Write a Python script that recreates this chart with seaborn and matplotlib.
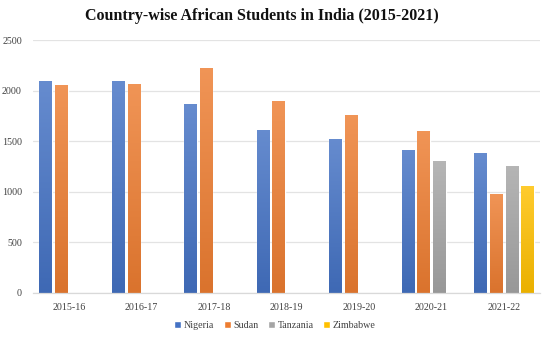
import numpy as np
import pandas as pd
import matplotlib
matplotlib.use("Agg")
import matplotlib.pyplot as plt
import seaborn as sns
from matplotlib.colors import to_rgb, LinearSegmentedColormap

years = ["2015-16", "2016-17", "2017-18", "2018-19", "2019-20", "2020-21", "2021-22"]
nigeria = [2090, 2090, 1865, 1615, 1525, 1415, 1385]
sudan = [2060, 2070, 2220, 1900, 1757, 1600, 980]
tanzania = [np.nan, np.nan, np.nan, np.nan, np.nan, 1300, 1258]
zimbabwe = [np.nan, np.nan, np.nan, np.nan, np.nan, np.nan, 1057]
countries = ["Nigeria", "Sudan", "Tanzania", "Zimbabwe"]
colors = ["#4472C4", "#ED7D31", "#A5A5A5", "#FFC000"]
yticks = [0, 500, 1000, 1500, 2000, 2500]

df = pd.DataFrame({"Year": years, "Nigeria": nigeria, "Sudan": sudan,
                   "Tanzania": tanzania, "Zimbabwe": zimbabwe})
long = df.melt(id_vars="Year", var_name="Country", value_name="Students")

sns.set_theme(style="white")
serif = ["Liberation Serif", "DejaVu Serif"]
plt.rcParams["font.family"] = serif

fig = plt.figure(figsize=(5.5, 3.39), dpi=100)
ax = fig.add_axes([0.06, 0.1357, 0.922, 0.7463])

sns.barplot(data=long, x="Year", y="Students", hue="Country", order=years,
            hue_order=countries, palette=colors, width=0.87, gap=0.21,
            ax=ax, legend=True, saturation=1, errorbar=None)

# soft vertical shading on each bar: lighter at the top
for patch in ax.patches:
    h = patch.get_height()
    if not np.isfinite(h) or h <= 0:
        continue
    base = np.array(to_rgb(patch.get_facecolor()))
    light = base + (1 - base) * 0.18
    dark = base * 0.92
    cmap = LinearSegmentedColormap.from_list("shade", [dark, light])
    x0 = patch.get_x()
    w = patch.get_width()
    grad = np.linspace(0, 1, 64).reshape(-1, 1)
    im = ax.imshow(grad, cmap=cmap, aspect="auto", origin="lower",
                   extent=[x0, x0 + w, 0, h], zorder=patch.get_zorder() + 0.1,
                   interpolation="bicubic")
    im.set_clip_path(patch)

ax.set_xlim(-0.5, len(years) - 0.5)
ax.set_ylim(0, 2500)
ax.set_yticks(yticks)
ax.set_yticklabels([str(t) for t in yticks])
ax.yaxis.grid(True, color="#E3E3E3", linewidth=0.9)
ax.set_axisbelow(True)
for s in ["top", "right", "left"]:
    ax.spines[s].set_visible(False)
ax.spines["bottom"].set_color("#D9D9D9")
ax.spines["bottom"].set_linewidth(0.9)
ax.tick_params(axis="both", length=0, labelsize=7.2, colors="#404040")
ax.tick_params(axis="y", pad=8)
ax.tick_params(axis="x", pad=7)
ax.set_xlabel("")
ax.set_ylabel("")

fig.suptitle("Country-wise African Students in India (2015-2021)",
             x=0.476, y=0.975, fontsize=11.5, fontweight="bold", color="#111111")

handles, labels = ax.get_legend_handles_labels()
ax.get_legend().remove()
leg = fig.legend(handles, labels, loc="center", bbox_to_anchor=(0.5, 0.04), ncol=4,
                 frameon=False, fontsize=7.2, handlelength=0.7, handleheight=0.7,
                 handletextpad=0.3, columnspacing=0.9, borderaxespad=0)
for t in leg.get_texts():
    t.set_color("#404040")

fig.savefig("out.png", dpi=100)
